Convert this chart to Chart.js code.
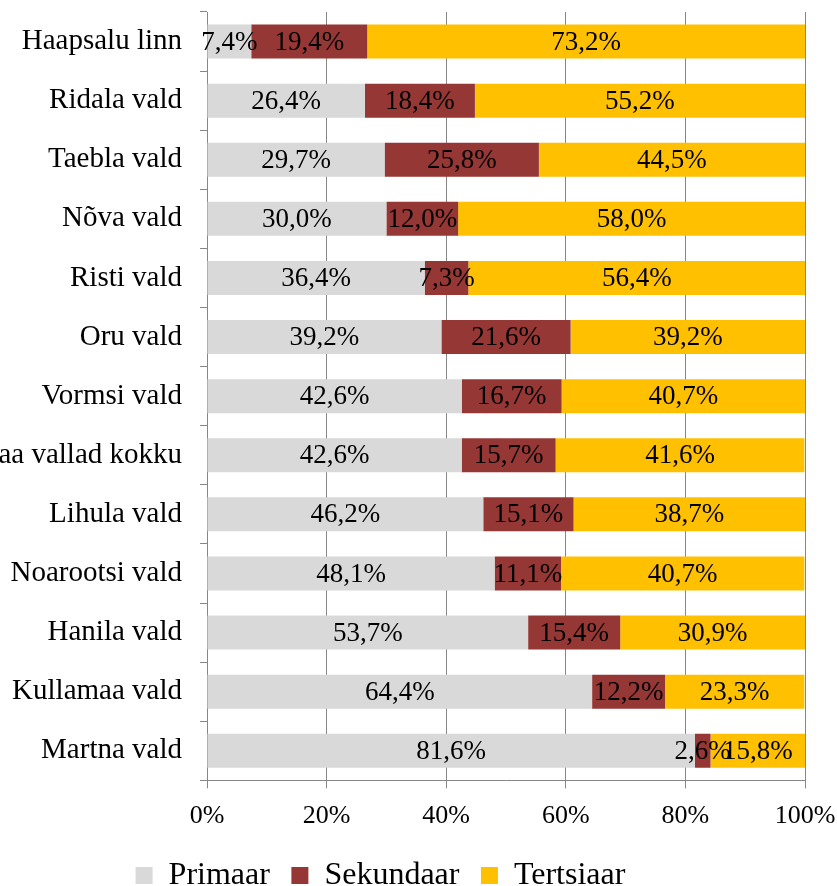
<!DOCTYPE html>
<html>
<head>
<meta charset="utf-8">
<script src="https://cdn.jsdelivr.net/npm/chart.js@4"></script>
<style>
  html, body { margin: 0; padding: 0; background: #fff; }
  #wrap { width: 837px; height: 886px; }
</style>
</head>
<body>
<div id="wrap"><canvas id="chart"></canvas></div>
<script>
    const categories = ['Haapsalu linn', 'Ridala vald', 'Taebla vald', 'Nõva vald', 'Risti vald', 'Oru vald',
        'Vormsi vald', 'Läänemaa vallad kokku', 'Lihula vald', 'Noarootsi vald', 'Hanila vald', 'Kullamaa vald', 'Martna vald'];
    const primaar   = [7.4, 26.4, 29.7, 30.0, 36.4, 39.2, 42.6, 42.6, 46.2, 48.1, 53.7, 64.4, 81.6];
    const sekundaar = [19.4, 18.4, 25.8, 12.0, 7.3, 21.6, 16.7, 15.7, 15.1, 11.1, 15.4, 12.2, 2.6];
    const tertsiaar = [73.2, 55.2, 44.5, 58.0, 56.4, 39.2, 40.7, 41.6, 38.7, 40.7, 30.9, 23.3, 15.8];
    const xTicks = [0, 20, 40, 60, 80, 100];

    const FONT = '"Liberation Serif", "Times New Roman", serif';
    const GRID = '#868686';

    const fmt = v => v.toFixed(1).replace('.', ',') + '%';

    // labels centred in every segment, drawn after all bars so they sit on top
    const segmentLabels = {
        id: 'segmentLabels',
        afterDatasetsDraw(chart) {
            const ctx = chart.ctx;
            ctx.save();
            ctx.font = '27px ' + FONT;
            ctx.fillStyle = '#000';
            ctx.textAlign = 'center';
            ctx.textBaseline = 'middle';
            chart.data.datasets.forEach((ds, i) => {
                chart.getDatasetMeta(i).data.forEach((bar, j) => {
                    const p = bar.getProps(['x', 'base', 'y'], true);
                    ctx.fillText(fmt(ds.data[j]), (p.x + p.base) / 2, p.y + 1);
                });
            });
            ctx.restore();
        }
    };

    // put the legend where the original has it (a bit left of centre, near the bottom)
    const legendShift = {
        id: 'legendShift',
        afterLayout(chart) {
            const lg = chart.legend;
            lg.left -= 22;
            lg.right -= 22;
            lg.top = 838;
            lg.bottom = lg.top + lg.height;
        }
    };

    new Chart(document.getElementById('chart'), {
        type: 'bar',
        data: {
            labels: categories,
            datasets: [
                { label: 'Primaar', data: primaar, backgroundColor: '#D9D9D9' },
                { label: 'Sekundaar', data: sekundaar, backgroundColor: '#953735' },
                { label: 'Tertsiaar', data: tertsiaar, backgroundColor: '#FFC000' }
            ]
        },
        options: {
            indexAxis: 'y',
            responsive: true,
            maintainAspectRatio: false,
            animation: false,
            categoryPercentage: 1,
            barPercentage: 0.575,
            layout: { padding: { top: 12, right: 32, left: 0, bottom: -21 } },
            plugins: {
                tooltip: { enabled: false },
                legend: {
                    position: 'bottom',
                    labels: {
                        font: { family: FONT, size: 32 },
                        color: '#000',
                        boxWidth: 17,
                        boxHeight: 17,
                        padding: 21.5
                    }
                }
            },
            scales: {
                x: {
                    stacked: true,
                    min: 0,
                    max: 100,
                    afterBuildTicks: s => { s.ticks = xTicks.map(v => ({ value: v })); },
                    afterFit: s => { s.paddingLeft = 0; s.paddingRight = 0; },
                    ticks: {
                        callback: v => v + '%',
                        font: { family: FONT, size: 26 },
                        color: '#000',
                        padding: 12,
                        maxRotation: 0
                    },
                    grid: { color: GRID, tickLength: 8 },
                    border: { color: GRID }
                },
                y: {
                    stacked: true,
                    afterFit: s => { s.width = 207; s.paddingTop = 0; s.paddingBottom = 0; },
                    ticks: {
                        font: { family: FONT, size: 29 },
                        color: '#000',
                        padding: 18
                    },
                    grid: { color: GRID, drawOnChartArea: false, tickLength: 7, offset: true },
                    border: { color: GRID }
                }
            }
        },
        plugins: [segmentLabels, legendShift]
    });
</script>
</body>
</html>
